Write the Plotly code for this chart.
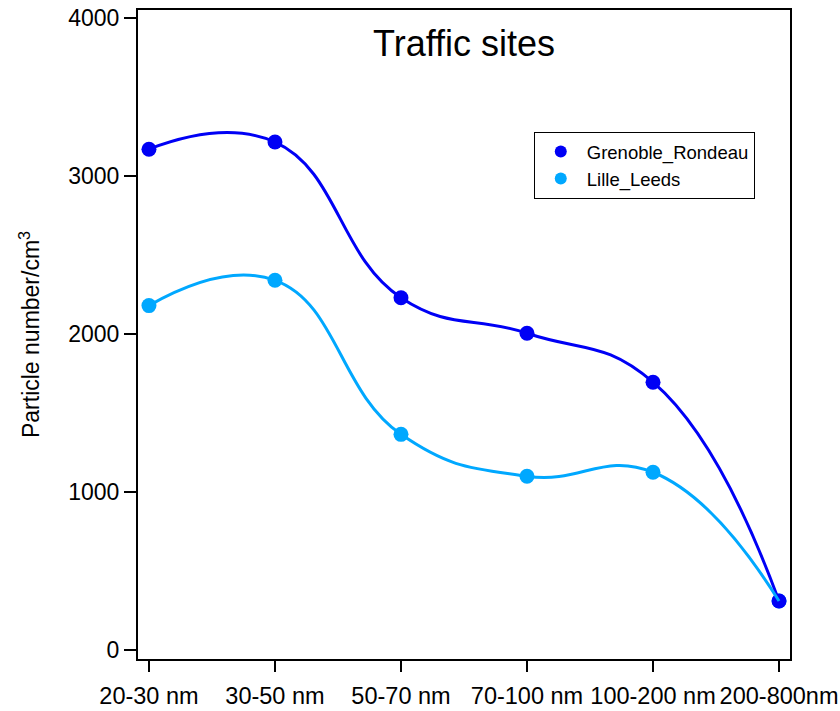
import plotly.graph_objects as go

# Size-bin categories and particle number concentrations (particles/cm³)
size_bins = ["20-30 nm", "30-50 nm", "50-70 nm", "70-100 nm", "100-200 nm", "200-800nm"]
grenoble_rondeau = [3170, 3215, 2230, 2005, 1695, 310]
lille_leeds = [2180, 2340, 1365, 1100, 1125, 310]

BLUE = "#0000F5"
SKY = "#00A8FF"
FONT = "Liberation Sans, Arial, sans-serif"

fig = go.Figure()

# markers (legend entries)
fig.add_trace(go.Scatter(
    x=size_bins, y=lille_leeds, mode="markers", name="Lille_Leeds",
    marker=dict(color=SKY, size=15), legendrank=2,
))
fig.add_trace(go.Scatter(
    x=size_bins, y=grenoble_rondeau, mode="markers", name="Grenoble_Rondeau",
    marker=dict(color=BLUE, size=15), legendrank=1,
))
# smooth curves through the points
fig.add_trace(go.Scatter(
    x=size_bins, y=grenoble_rondeau, mode="lines", showlegend=False,
    line=dict(color=BLUE, width=3, shape="spline", smoothing=1.3),
))
fig.add_trace(go.Scatter(
    x=size_bins, y=lille_leeds, mode="lines", showlegend=False,
    line=dict(color=SKY, width=3, shape="spline", smoothing=1.3),
))

fig.update_layout(
    width=840, height=711,
    margin=dict(l=138, r=50, t=10, b=52),
    paper_bgcolor="white", plot_bgcolor="white",
    font=dict(family=FONT, color="black", size=22),
    showlegend=True,
    legend=dict(
        x=0.607, y=0.812, xanchor="left", yanchor="top",
        bordercolor="black", borderwidth=1, bgcolor="white",
        font=dict(size=18.5), tracegroupgap=0, itemsizing="constant",
        itemwidth=42,
    ),
    annotations=[dict(
        text="Traffic sites", x=0.5, y=0.948, xref="paper", yref="paper",
        xanchor="center", yanchor="middle", showarrow=False,
        font=dict(size=36, family=FONT),
    )],
)

fig.update_xaxes(
    type="category", range=[-0.087, 5.087], automargin=False,
    showline=True, linecolor="black", linewidth=2, mirror=True,
    ticks="outside", ticklen=11, tickwidth=2, tickcolor="black",
    showgrid=False, zeroline=False,
    tickfont=dict(size=23.5), ticklabelstandoff=4,
)
fig.update_yaxes(
    range=[-57, 4051], tickvals=[0, 1000, 2000, 3000, 4000], automargin=False,
    showline=True, linecolor="black", linewidth=2, mirror=True,
    ticks="outside", ticklen=12, tickwidth=2, tickcolor="black",
    showgrid=False, zeroline=False,
    tickfont=dict(size=23),
    title=dict(text="Particle number/cm<sup>3</sup>", font=dict(size=23), standoff=22),
)

fig.write_html("out.html")
